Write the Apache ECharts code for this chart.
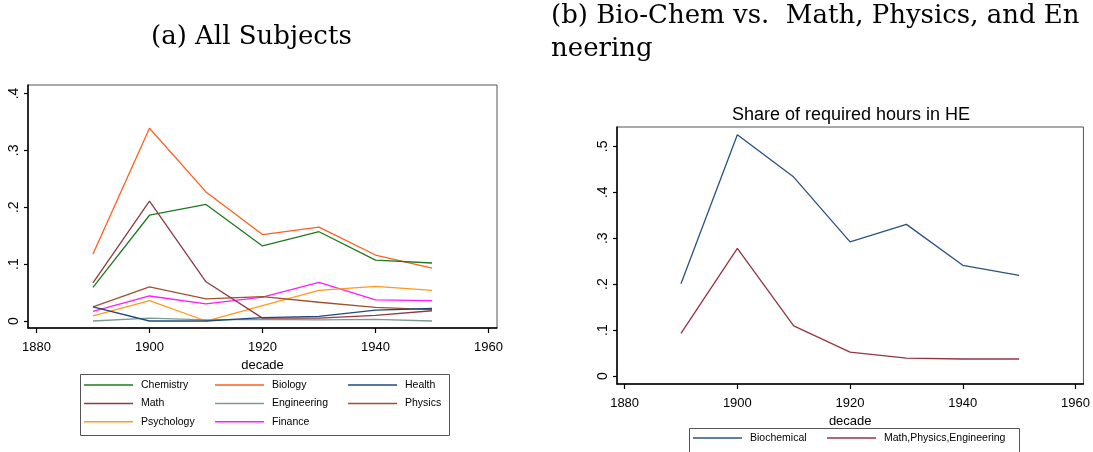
<!DOCTYPE html>
<html>
<head>
<meta charset="utf-8">
<script src="https://cdn.jsdelivr.net/npm/echarts@6/dist/echarts.min.js"></script>
<style>
html,body{margin:0;padding:0;background:#fff;}
#c{width:1093px;height:452px;}
</style>
</head>
<body>
<div id="c"></div>
<script>
// ---- data ----
const decades = [1890, 1900, 1910, 1920, 1930, 1940, 1950];
const chemistry   = [0.059, 0.186, 0.205, 0.132, 0.157, 0.107, 0.102];
const biology     = [0.118, 0.339, 0.227, 0.152, 0.165, 0.116, 0.093];
const health      = [0.025, 0.000, 0.000, 0.006, 0.008, 0.019, 0.022];
const math        = [0.067, 0.211, 0.069, 0.005, 0.005, 0.010, 0.018];
const engineering = [0.000, 0.005, 0.002, 0.003, 0.002, 0.003, 0.000];
const physics     = [0.025, 0.060, 0.039, 0.043, 0.033, 0.024, 0.020];
const psychology  = [0.009, 0.036, 0.000, 0.027, 0.054, 0.061, 0.054];
const finance     = [0.017, 0.044, 0.030, 0.042, 0.068, 0.037, 0.036];

const bioChemical  = [0.201, 0.525, 0.433, 0.292, 0.330, 0.241, 0.219];
const mathPhysEng  = [0.093, 0.278, 0.109, 0.052, 0.039, 0.037, 0.037];

const xTicks = [1880, 1900, 1920, 1940, 1960];
const yTicksLeft = [0, 0.1, 0.2, 0.3, 0.4];
const yTicksRight = [0, 0.1, 0.2, 0.3, 0.4, 0.5];

const leftNames  = ['Chemistry', 'Biology', 'Health', 'Math', 'Engineering', 'Physics', 'Psychology', 'Finance'];
const leftValues = [chemistry, biology, health, math, engineering, physics, psychology, finance];
const leftColors = ['#1f7a1f', '#ff5e1f', '#1f4b7a', '#8f3a43', '#7c9a92', '#a0522d', '#ff9a1a', '#ff1aff'];
const rightNames = ['Biochemical', 'Math,Physics,Engineering'];
const rightValues = [bioChemical, mathPhysEng];
const rightColors = ['#2b5283', '#953540'];

// ---- chart ----
const chart = echarts.init(document.getElementById('c'), null, {renderer: 'canvas'});
const sans = 'Liberation Sans';
const serif = '"DejaVu Serif"';
const yFmt = v => (v === 0 ? '0' : v.toFixed(1).replace(/^0/, ''));
const xFmt = v => String(Math.round(v));

function xAxis(gi, min, max, gap) {
  return {
    type: 'value', gridIndex: gi, min: min, max: max,
    name: 'decade', nameLocation: 'middle', nameGap: gap,
    nameTextStyle: {fontFamily: sans, fontSize: 13, color: '#000'},
    axisLine: {show: true, onZero: false, lineStyle: {color: '#000', width: 1.5}},
    axisTick: {show: true, length: 5, customValues: xTicks, lineStyle: {color: '#000', width: 1.2}},
    axisLabel: {customValues: xTicks, formatter: xFmt, fontFamily: sans, fontSize: 13, color: '#000', margin: 13},
    splitLine: {show: false}
  };
}
function yAxis(gi, min, max, ticks) {
  return {
    type: 'value', gridIndex: gi, min: min, max: max,
    axisLine: {show: true, onZero: false, lineStyle: {color: '#000', width: 1.5}},
    axisTick: {show: true, length: 4, customValues: ticks, lineStyle: {color: '#000', width: 1.2}},
    axisLabel: {customValues: ticks, formatter: yFmt, rotate: 90, fontFamily: sans, fontSize: 14, color: '#000', margin: 7},
    splitLine: {show: false}
  };
}

const series = [];
leftNames.forEach((n, i) => {
  series.push({
    name: n, type: 'line', xAxisIndex: 0, yAxisIndex: 0, symbol: 'none',
    data: decades.map((d, k) => [d, leftValues[i][k]]),
    lineStyle: {color: leftColors[i], width: 1.3}, itemStyle: {color: leftColors[i]},
    emphasis: {disabled: true}, silent: true, z: 10 - i
  });
});
rightNames.forEach((n, i) => {
  series.push({
    name: n, type: 'line', xAxisIndex: 1, yAxisIndex: 1, symbol: 'none',
    data: decades.map((d, k) => [d, rightValues[i][k]]),
    lineStyle: {color: rightColors[i], width: 1.3}, itemStyle: {color: rightColors[i]},
    emphasis: {disabled: true}, silent: true
  });
});

const legendBase = {
  orient: 'vertical', icon: 'rect', itemWidth: 49, itemHeight: 1.5, itemGap: 6.4, padding: 0,
  selectedMode: false,
  textStyle: {fontFamily: sans, fontSize: 10.5, color: '#000', lineHeight: 12, padding: [0, 0, 0, 3]}
};

chart.setOption({
  animation: false,
  backgroundColor: '#fff',
  grid: [
    {left: 28, top: 85, width: 469, height: 243, show: true, borderColor: '#555', borderWidth: 1, backgroundColor: '#fff'},
    {left: 617, top: 127, width: 469, height: 257, show: true, borderColor: '#555', borderWidth: 1, backgroundColor: '#fff'}
  ],
  xAxis: [xAxis(0, 1878.5, 1961.5, 21), xAxis(1, 1878.65, 1961.4, 20)],
  yAxis: [yAxis(0, -0.0123, 0.415, yTicksLeft), yAxis(1, -0.0174, 0.542, yTicksRight)],
  legend: [
    Object.assign({}, legendBase, {left: 84, top: 379, data: ['Chemistry', 'Math', 'Psychology']}),
    Object.assign({}, legendBase, {left: 215, top: 379, data: ['Biology', 'Engineering', 'Finance']}),
    Object.assign({}, legendBase, {left: 348, top: 379, data: ['Health', 'Physics']}),
    Object.assign({}, legendBase, {left: 693, top: 432, data: ['Biochemical']}),
    Object.assign({}, legendBase, {left: 827, top: 432, data: ['Math,Physics,Engineering']})
  ],
  graphic: [
    {type: 'rect', left: 78, top: 372, shape: {width: 369, height: 61}, style: {fill: 'none', stroke: '#555', lineWidth: 1}, silent: true},
    {type: 'rect', left: 687, top: 426, shape: {width: 330, height: 24}, style: {fill: 'none', stroke: '#555', lineWidth: 1}, silent: true},
    {type: 'text', left: 151, top: 24, style: {text: '(a) All Subjects', font: '26px ' + serif, fill: '#000'}, silent: true},
    {type: 'text', left: 551, top: 3, style: {text: '(b) Bio-Chem vs.  Math, Physics, and En', font: '26px ' + serif, fill: '#000'}, silent: true},
    {type: 'text', left: 551, top: 36, style: {text: 'neering', font: '26px ' + serif, fill: '#000'}, silent: true},
    {type: 'text', x: 851, y: 115, style: {text: 'Share of required hours in HE', font: '18px "Liberation Sans"', fill: '#000', align: 'center', verticalAlign: 'middle'}, silent: true}
  ],
  series: series
});
</script>
</body>
</html>
